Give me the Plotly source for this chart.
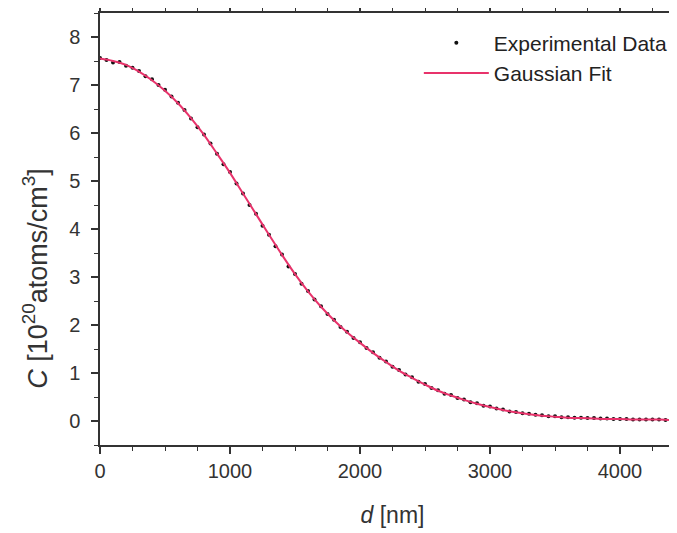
import plotly.graph_objects as go

exp_d = list(range(0, 4501, 50))
exp_c = [7.56, 7.52, 7.47, 7.48, 7.40, 7.36, 7.29, 7.18, 7.12, 7.00,
         6.90, 6.76, 6.63, 6.48, 6.30, 6.12, 5.97, 5.78, 5.57, 5.35,
         5.19, 4.95, 4.74, 4.50, 4.32, 4.07, 3.88, 3.64, 3.47, 3.22,
         3.06, 2.86, 2.71, 2.53, 2.39, 2.23, 2.11, 1.96, 1.86, 1.73,
         1.64, 1.52, 1.43, 1.32, 1.24, 1.13, 1.06, 0.97, 0.91, 0.82,
         0.77, 0.69, 0.64, 0.57, 0.54, 0.48, 0.45, 0.39, 0.37, 0.32,
         0.30, 0.26, 0.24, 0.20, 0.19, 0.16, 0.15, 0.13, 0.12, 0.10,
         0.10, 0.08, 0.08, 0.07, 0.07, 0.06, 0.06, 0.05, 0.05, 0.04,
         0.04, 0.04, 0.03, 0.03, 0.03, 0.03, 0.03, 0.02, 0.02, 0.02,
         0.02]

# Gaussian fit curve
fit_d = list(range(0, 4501, 100))
fit_c = [7.55, 7.50, 7.42, 7.28, 7.10, 6.88, 6.62, 6.31, 5.96, 5.57,
         5.17, 4.74, 4.31, 3.88, 3.46, 3.06, 2.70, 2.38, 2.10, 1.85,
         1.63, 1.42, 1.23, 1.05, 0.90, 0.76, 0.63, 0.53, 0.44, 0.36,
         0.29, 0.23, 0.18, 0.14, 0.11, 0.09, 0.07, 0.06, 0.05, 0.04,
         0.04, 0.03, 0.03, 0.03, 0.02, 0.02]

x_ticks = [0, 1000, 2000, 3000, 4000]
y_ticks = [0, 1, 2, 3, 4, 5, 6, 7, 8]

FONT = "Liberation Sans, Arial, sans-serif"
AX = "#333333"

fig = go.Figure()
fig.add_trace(go.Scatter(x=exp_d, y=exp_c, mode="markers", name="Experimental Data",
                         marker=dict(color="#111111", size=4, symbol="circle")))
fig.add_trace(go.Scatter(x=fit_d, y=fit_c, mode="lines", name="Gaussian Fit",
                         line=dict(color="#e8336b", width=2, shape="spline")))

axis_common = dict(showline=True, linecolor=AX, linewidth=1.5, ticks="outside",
                   tickcolor=AX, ticklen=7, tickwidth=1.5, showgrid=False, zeroline=False,
                   automargin=False,
                   tickfont=dict(family=FONT, size=20, color="#333333"))

fig.update_xaxes(range=[0, 4500], tickvals=x_ticks, mirror="ticks",
                 minor=dict(dtick=250, ticklen=4, tickcolor=AX, ticks="outside", tickwidth=1.2),
                 title=dict(text="<i>d</i> [nm]", font=dict(family=FONT, size=23, color="#333333"),
                            standoff=26),
                 **axis_common)
fig.update_yaxes(range=[-0.5, 8.5], tickvals=y_ticks, mirror=False, ticklabelstandoff=7,
                 minor=dict(dtick=0.5, ticklen=4, tickcolor=AX, ticks="outside", tickwidth=1.2),
                 **axis_common)

fig.add_annotation(text="<i>C</i> [10<sup>20</sup>atoms/cm<sup>3</sup>]",
                   xref="paper", yref="paper", x=-0.111, y=0.385, textangle=-90,
                   xanchor="center", yanchor="middle",
                   showarrow=False, font=dict(family=FONT, size=27, color="#333333"))

fig.update_layout(
    width=677, height=533,
    margin=dict(l=92, r=0, t=5, b=96),
    plot_bgcolor="white", paper_bgcolor="white",
    showlegend=True,
    legend=dict(x=0.545, y=0.978, xanchor="left", yanchor="top", bgcolor="rgba(0,0,0,0)",
                font=dict(family=FONT, size=21, color="#222222"), itemwidth=65),
)

fig.write_html("out.html")
